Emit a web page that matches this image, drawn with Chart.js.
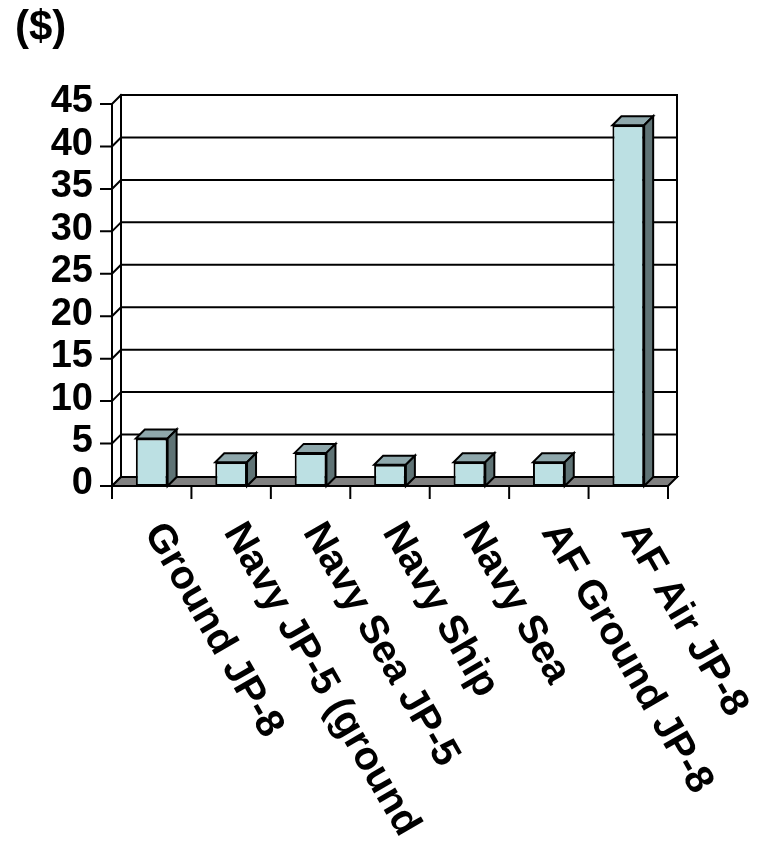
<!DOCTYPE html>
<html>
<head>
<meta charset="utf-8">
<script src="https://cdn.jsdelivr.net/npm/chart.js@4.4.1/dist/chart.umd.min.js"></script>
<style>
  html, body { margin: 0; padding: 0; background: #ffffff; }
  #wrap { width: 763px; height: 856px; position: relative; }
</style>
</head>
<body>
<div id="wrap"><canvas id="c"></canvas></div>
<script>
// Fuel cost per category
const categories = ['Ground JP-8', 'Navy JP-5 (ground', 'Navy Sea JP-5', 'Navy Ship', 'Navy Sea', 'AF Ground JP-8', 'AF Air JP-8'];
const costs = [5.6, 2.8, 3.9, 2.5, 2.8, 2.8, 42.5];
const yTicks = [0, 5, 10, 15, 20, 25, 30, 35, 40, 45];
const unitLabel = '($)';

const DEPTH = 9;
const FONT_FAMILY = '"Liberation Sans", Arial, Helvetica, sans-serif';
const COLORS = { front: '#bce0e3', top: '#8fa8ac', side: '#5f7375', floor: '#808080', line: '#000000' };

// Draws the pseudo-3D walls, floor, bar tops/sides and rotated category labels
const box3d = {
  id: 'box3d',
  beforeDatasetsDraw(chart) {
    const { ctx, chartArea: { left, right }, scales: { y } } = chart;
    const d = DEPTH;
    const y0 = y.getPixelForValue(yTicks[0]);
    const yMax = y.getPixelForValue(yTicks[yTicks.length - 1]);
    ctx.save();
    ctx.lineWidth = 2;
    ctx.strokeStyle = COLORS.line;
    ctx.lineCap = 'square';
    // back wall gridlines and side wall diagonals with tick marks
    yTicks.forEach(v => {
      const py = y.getPixelForValue(v);
      ctx.beginPath();
      ctx.moveTo(left + d, py - d);
      ctx.lineTo(right + d, py - d);
      ctx.stroke();
      ctx.beginPath();
      ctx.moveTo(left - 11, py);
      ctx.lineTo(left, py);
      ctx.lineTo(left + d, py - d);
      ctx.stroke();
    });
    // back wall vertical edges
    ctx.beginPath();
    ctx.moveTo(left + d, yMax - d);
    ctx.lineTo(left + d, y0 - d);
    ctx.moveTo(right + d, yMax - d);
    ctx.lineTo(right + d, y0 - d);
    ctx.stroke();
    // floor
    ctx.beginPath();
    ctx.moveTo(left, y0);
    ctx.lineTo(right, y0);
    ctx.lineTo(right + d, y0 - d);
    ctx.lineTo(left + d, y0 - d);
    ctx.closePath();
    ctx.fillStyle = COLORS.floor;
    ctx.fill();
    ctx.stroke();
    // front value axis
    ctx.beginPath();
    ctx.moveTo(left, yMax);
    ctx.lineTo(left, y0 + 12);
    ctx.stroke();
    // category separators
    const n = categories.length;
    const step = (right - left) / n;
    for (let i = 0; i <= n; i++) {
      const px = left + i * step;
      ctx.beginPath();
      ctx.moveTo(px, y0);
      ctx.lineTo(px, y0 + 12);
      ctx.stroke();
    }
    ctx.restore();
  },
  afterDatasetsDraw(chart) {
    const { ctx } = chart;
    const d = DEPTH;
    const meta = chart.getDatasetMeta(0);
    ctx.save();
    ctx.lineWidth = 2;
    ctx.strokeStyle = COLORS.line;
    ctx.lineJoin = 'miter';
    meta.data.forEach(bar => {
      const x0 = bar.x - bar.width / 2;
      const x1 = bar.x + bar.width / 2;
      const yt = bar.y;
      const yb = bar.base;
      // top face
      ctx.beginPath();
      ctx.moveTo(x0, yt);
      ctx.lineTo(x1, yt);
      ctx.lineTo(x1 + d, yt - d);
      ctx.lineTo(x0 + d, yt - d);
      ctx.closePath();
      ctx.fillStyle = COLORS.top;
      ctx.fill();
      ctx.stroke();
      // side face
      ctx.beginPath();
      ctx.moveTo(x1, yt);
      ctx.lineTo(x1 + d, yt - d);
      ctx.lineTo(x1 + d, yb - d);
      ctx.lineTo(x1, yb);
      ctx.closePath();
      ctx.fillStyle = COLORS.side;
      ctx.fill();
      ctx.stroke();
    });
    ctx.restore();
  },
  afterDraw(chart) {
    const { ctx, scales: { x, y } } = chart;
    const y0 = y.getPixelForValue(yTicks[0]);
    ctx.save();
    ctx.fillStyle = '#000';
    ctx.textAlign = 'left';
    ctx.textBaseline = 'alphabetic';
    ctx.font = 'bold 42px ' + FONT_FAMILY;
    ctx.fillText(unitLabel, 15, 40);
    ctx.font = 'bold 40px ' + FONT_FAMILY;
    const angle = 60 * Math.PI / 180;
    categories.forEach((label, i) => {
      const cx = x.getPixelForValue(i);
      ctx.save();
      ctx.translate(cx - 8, y0 + 46);
      ctx.rotate(angle);
      ctx.fillText(label, 0, 0);
      ctx.restore();
    });
    ctx.restore();
  }
};

new Chart(document.getElementById('c'), {
  type: 'bar',
  data: {
    labels: categories,
    datasets: [{
      data: costs,
      backgroundColor: COLORS.front,
      borderColor: COLORS.line,
      borderWidth: 2,
      borderSkipped: false,
      barPercentage: 0.4,
      categoryPercentage: 1.0
    }]
  },
  options: {
    responsive: true,
    maintainAspectRatio: false,
    animation: false,
    layout: { padding: { top: 104, right: 95, left: 0, bottom: 0 } },
    plugins: { legend: { display: false }, tooltip: { enabled: false }, title: { display: false } },
    scales: {
      x: {
        grid: { display: false, drawTicks: false },
        border: { display: false },
        ticks: { display: false },
        afterFit(scale) { scale.height = 370; }
      },
      y: {
        min: 0,
        max: 45,
        grid: { display: false, drawTicks: false },
        border: { display: false },
        ticks: {
          stepSize: 5,
          autoSkip: false,
          padding: 19,
          labelOffset: -2,
          color: '#000',
          font: { family: FONT_FAMILY, size: 38, weight: 'bold' }
        },
        afterFit(scale) { scale.width = 112; }
      }
    }
  },
  plugins: [box3d]
});
</script>
</body>
</html>
